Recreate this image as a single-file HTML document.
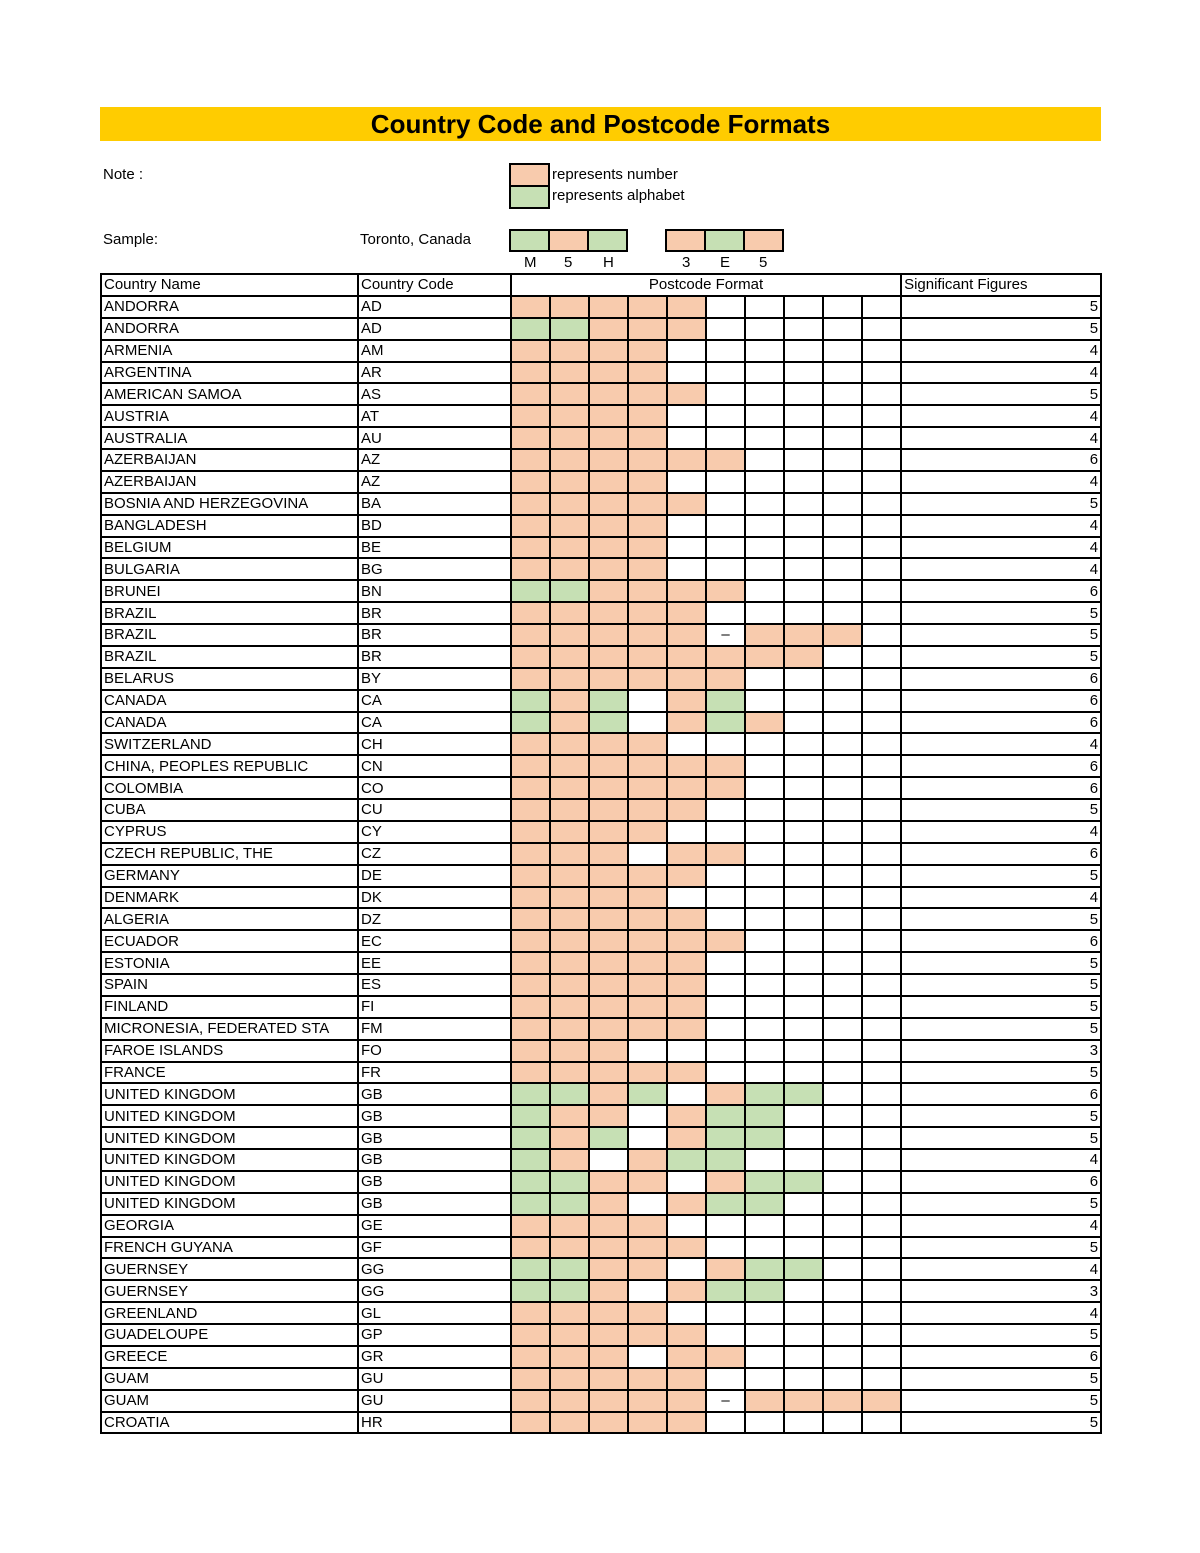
<!DOCTYPE html>
<html><head><meta charset="utf-8"><style>
body{margin:0;width:1200px;height:1553px;background:#fff;position:relative;font-family:"Liberation Sans",Arial,sans-serif;color:#000}
.abs{position:absolute}
.title{left:100px;top:107px;width:1001px;height:34px;background:#FFCC00;font-weight:bold;font-size:26px;text-align:center;line-height:34px}
.t{font-size:15px;position:absolute;white-space:nowrap}
.box{position:absolute;border:2px solid #000;box-sizing:border-box}
table{position:absolute;left:100px;top:273px;border-collapse:collapse;table-layout:fixed;width:1001px}
td{border:2px solid #000;height:19.88px;padding:0 2px;font-size:15px;line-height:19px;white-space:nowrap;overflow:hidden}
td.n{background:#F8CBAD}td.a{background:#C6E0B4}
td.r{text-align:right}
td.d{text-align:center}
</style></head><body>
<div class="abs title">Country Code and Postcode Formats</div>
<div class="t" style="left:103px;top:166px">Note :</div>
<div class="box" style="left:509px;top:163px;width:41px;height:24px;background:#F8CBAD"></div>
<div class="box" style="left:509px;top:185px;width:41px;height:24px;background:#C6E0B4"></div>
<div class="t" style="left:552px;top:166px">represents number</div>
<div class="t" style="left:552px;top:187px">represents alphabet</div>
<div class="t" style="left:103px;top:231px">Sample:</div>
<div class="t" style="left:360px;top:231px">Toronto, Canada</div>
<div class="box" style="left:509px;top:229px;width:41px;height:23px;background:#C6E0B4"></div>
<div class="box" style="left:548px;top:229px;width:41px;height:23px;background:#F8CBAD"></div>
<div class="box" style="left:587px;top:229px;width:41px;height:23px;background:#C6E0B4"></div>
<div class="box" style="left:665px;top:229px;width:41px;height:23px;background:#F8CBAD"></div>
<div class="box" style="left:704px;top:229px;width:41px;height:23px;background:#C6E0B4"></div>
<div class="box" style="left:743px;top:229px;width:41px;height:23px;background:#F8CBAD"></div>
<div class="t" style="left:524px;top:254px">M</div>
<div class="t" style="left:564px;top:254px">5</div>
<div class="t" style="left:603px;top:254px">H</div>
<div class="t" style="left:682px;top:254px">3</div>
<div class="t" style="left:720px;top:254px">E</div>
<div class="t" style="left:759px;top:254px">5</div>
<table>
<colgroup><col style="width:257px"><col style="width:153px"><col style="width:39px"><col style="width:39px"><col style="width:39px"><col style="width:39px"><col style="width:39px"><col style="width:39px"><col style="width:39px"><col style="width:39px"><col style="width:39px"><col style="width:39px"><col style="width:200px"></colgroup>
<tr><td>Country Name</td><td>Country Code</td><td colspan="10" style="text-align:center">Postcode Format</td><td>Significant Figures</td></tr>
<tr><td>ANDORRA</td><td>AD</td><td class=n></td><td class=n></td><td class=n></td><td class=n></td><td class=n></td><td></td><td></td><td></td><td></td><td></td><td class=r>5</td></tr>
<tr><td>ANDORRA</td><td>AD</td><td class=a></td><td class=a></td><td class=n></td><td class=n></td><td class=n></td><td></td><td></td><td></td><td></td><td></td><td class=r>5</td></tr>
<tr><td>ARMENIA</td><td>AM</td><td class=n></td><td class=n></td><td class=n></td><td class=n></td><td></td><td></td><td></td><td></td><td></td><td></td><td class=r>4</td></tr>
<tr><td>ARGENTINA</td><td>AR</td><td class=n></td><td class=n></td><td class=n></td><td class=n></td><td></td><td></td><td></td><td></td><td></td><td></td><td class=r>4</td></tr>
<tr><td>AMERICAN SAMOA</td><td>AS</td><td class=n></td><td class=n></td><td class=n></td><td class=n></td><td class=n></td><td></td><td></td><td></td><td></td><td></td><td class=r>5</td></tr>
<tr><td>AUSTRIA</td><td>AT</td><td class=n></td><td class=n></td><td class=n></td><td class=n></td><td></td><td></td><td></td><td></td><td></td><td></td><td class=r>4</td></tr>
<tr><td>AUSTRALIA</td><td>AU</td><td class=n></td><td class=n></td><td class=n></td><td class=n></td><td></td><td></td><td></td><td></td><td></td><td></td><td class=r>4</td></tr>
<tr><td>AZERBAIJAN</td><td>AZ</td><td class=n></td><td class=n></td><td class=n></td><td class=n></td><td class=n></td><td class=n></td><td></td><td></td><td></td><td></td><td class=r>6</td></tr>
<tr><td>AZERBAIJAN</td><td>AZ</td><td class=n></td><td class=n></td><td class=n></td><td class=n></td><td></td><td></td><td></td><td></td><td></td><td></td><td class=r>4</td></tr>
<tr><td>BOSNIA AND HERZEGOVINA</td><td>BA</td><td class=n></td><td class=n></td><td class=n></td><td class=n></td><td class=n></td><td></td><td></td><td></td><td></td><td></td><td class=r>5</td></tr>
<tr><td>BANGLADESH</td><td>BD</td><td class=n></td><td class=n></td><td class=n></td><td class=n></td><td></td><td></td><td></td><td></td><td></td><td></td><td class=r>4</td></tr>
<tr><td>BELGIUM</td><td>BE</td><td class=n></td><td class=n></td><td class=n></td><td class=n></td><td></td><td></td><td></td><td></td><td></td><td></td><td class=r>4</td></tr>
<tr><td>BULGARIA</td><td>BG</td><td class=n></td><td class=n></td><td class=n></td><td class=n></td><td></td><td></td><td></td><td></td><td></td><td></td><td class=r>4</td></tr>
<tr><td>BRUNEI</td><td>BN</td><td class=a></td><td class=a></td><td class=n></td><td class=n></td><td class=n></td><td class=n></td><td></td><td></td><td></td><td></td><td class=r>6</td></tr>
<tr><td>BRAZIL</td><td>BR</td><td class=n></td><td class=n></td><td class=n></td><td class=n></td><td class=n></td><td></td><td></td><td></td><td></td><td></td><td class=r>5</td></tr>
<tr><td>BRAZIL</td><td>BR</td><td class=n></td><td class=n></td><td class=n></td><td class=n></td><td class=n></td><td class=d>–</td><td class=n></td><td class=n></td><td class=n></td><td></td><td class=r>5</td></tr>
<tr><td>BRAZIL</td><td>BR</td><td class=n></td><td class=n></td><td class=n></td><td class=n></td><td class=n></td><td class=n></td><td class=n></td><td class=n></td><td></td><td></td><td class=r>5</td></tr>
<tr><td>BELARUS</td><td>BY</td><td class=n></td><td class=n></td><td class=n></td><td class=n></td><td class=n></td><td class=n></td><td></td><td></td><td></td><td></td><td class=r>6</td></tr>
<tr><td>CANADA</td><td>CA</td><td class=a></td><td class=n></td><td class=a></td><td></td><td class=n></td><td class=a></td><td></td><td></td><td></td><td></td><td class=r>6</td></tr>
<tr><td>CANADA</td><td>CA</td><td class=a></td><td class=n></td><td class=a></td><td></td><td class=n></td><td class=a></td><td class=n></td><td></td><td></td><td></td><td class=r>6</td></tr>
<tr><td>SWITZERLAND</td><td>CH</td><td class=n></td><td class=n></td><td class=n></td><td class=n></td><td></td><td></td><td></td><td></td><td></td><td></td><td class=r>4</td></tr>
<tr><td>CHINA, PEOPLES REPUBLIC</td><td>CN</td><td class=n></td><td class=n></td><td class=n></td><td class=n></td><td class=n></td><td class=n></td><td></td><td></td><td></td><td></td><td class=r>6</td></tr>
<tr><td>COLOMBIA</td><td>CO</td><td class=n></td><td class=n></td><td class=n></td><td class=n></td><td class=n></td><td class=n></td><td></td><td></td><td></td><td></td><td class=r>6</td></tr>
<tr><td>CUBA</td><td>CU</td><td class=n></td><td class=n></td><td class=n></td><td class=n></td><td class=n></td><td></td><td></td><td></td><td></td><td></td><td class=r>5</td></tr>
<tr><td>CYPRUS</td><td>CY</td><td class=n></td><td class=n></td><td class=n></td><td class=n></td><td></td><td></td><td></td><td></td><td></td><td></td><td class=r>4</td></tr>
<tr><td>CZECH REPUBLIC, THE</td><td>CZ</td><td class=n></td><td class=n></td><td class=n></td><td></td><td class=n></td><td class=n></td><td></td><td></td><td></td><td></td><td class=r>6</td></tr>
<tr><td>GERMANY</td><td>DE</td><td class=n></td><td class=n></td><td class=n></td><td class=n></td><td class=n></td><td></td><td></td><td></td><td></td><td></td><td class=r>5</td></tr>
<tr><td>DENMARK</td><td>DK</td><td class=n></td><td class=n></td><td class=n></td><td class=n></td><td></td><td></td><td></td><td></td><td></td><td></td><td class=r>4</td></tr>
<tr><td>ALGERIA</td><td>DZ</td><td class=n></td><td class=n></td><td class=n></td><td class=n></td><td class=n></td><td></td><td></td><td></td><td></td><td></td><td class=r>5</td></tr>
<tr><td>ECUADOR</td><td>EC</td><td class=n></td><td class=n></td><td class=n></td><td class=n></td><td class=n></td><td class=n></td><td></td><td></td><td></td><td></td><td class=r>6</td></tr>
<tr><td>ESTONIA</td><td>EE</td><td class=n></td><td class=n></td><td class=n></td><td class=n></td><td class=n></td><td></td><td></td><td></td><td></td><td></td><td class=r>5</td></tr>
<tr><td>SPAIN</td><td>ES</td><td class=n></td><td class=n></td><td class=n></td><td class=n></td><td class=n></td><td></td><td></td><td></td><td></td><td></td><td class=r>5</td></tr>
<tr><td>FINLAND</td><td>FI</td><td class=n></td><td class=n></td><td class=n></td><td class=n></td><td class=n></td><td></td><td></td><td></td><td></td><td></td><td class=r>5</td></tr>
<tr><td>MICRONESIA, FEDERATED STA</td><td>FM</td><td class=n></td><td class=n></td><td class=n></td><td class=n></td><td class=n></td><td></td><td></td><td></td><td></td><td></td><td class=r>5</td></tr>
<tr><td>FAROE ISLANDS</td><td>FO</td><td class=n></td><td class=n></td><td class=n></td><td></td><td></td><td></td><td></td><td></td><td></td><td></td><td class=r>3</td></tr>
<tr><td>FRANCE</td><td>FR</td><td class=n></td><td class=n></td><td class=n></td><td class=n></td><td class=n></td><td></td><td></td><td></td><td></td><td></td><td class=r>5</td></tr>
<tr><td>UNITED KINGDOM</td><td>GB</td><td class=a></td><td class=a></td><td class=n></td><td class=a></td><td></td><td class=n></td><td class=a></td><td class=a></td><td></td><td></td><td class=r>6</td></tr>
<tr><td>UNITED KINGDOM</td><td>GB</td><td class=a></td><td class=n></td><td class=n></td><td></td><td class=n></td><td class=a></td><td class=a></td><td></td><td></td><td></td><td class=r>5</td></tr>
<tr><td>UNITED KINGDOM</td><td>GB</td><td class=a></td><td class=n></td><td class=a></td><td></td><td class=n></td><td class=a></td><td class=a></td><td></td><td></td><td></td><td class=r>5</td></tr>
<tr><td>UNITED KINGDOM</td><td>GB</td><td class=a></td><td class=n></td><td></td><td class=n></td><td class=a></td><td class=a></td><td></td><td></td><td></td><td></td><td class=r>4</td></tr>
<tr><td>UNITED KINGDOM</td><td>GB</td><td class=a></td><td class=a></td><td class=n></td><td class=n></td><td></td><td class=n></td><td class=a></td><td class=a></td><td></td><td></td><td class=r>6</td></tr>
<tr><td>UNITED KINGDOM</td><td>GB</td><td class=a></td><td class=a></td><td class=n></td><td></td><td class=n></td><td class=a></td><td class=a></td><td></td><td></td><td></td><td class=r>5</td></tr>
<tr><td>GEORGIA</td><td>GE</td><td class=n></td><td class=n></td><td class=n></td><td class=n></td><td></td><td></td><td></td><td></td><td></td><td></td><td class=r>4</td></tr>
<tr><td>FRENCH GUYANA</td><td>GF</td><td class=n></td><td class=n></td><td class=n></td><td class=n></td><td class=n></td><td></td><td></td><td></td><td></td><td></td><td class=r>5</td></tr>
<tr><td>GUERNSEY</td><td>GG</td><td class=a></td><td class=a></td><td class=n></td><td class=n></td><td></td><td class=n></td><td class=a></td><td class=a></td><td></td><td></td><td class=r>4</td></tr>
<tr><td>GUERNSEY</td><td>GG</td><td class=a></td><td class=a></td><td class=n></td><td></td><td class=n></td><td class=a></td><td class=a></td><td></td><td></td><td></td><td class=r>3</td></tr>
<tr><td>GREENLAND</td><td>GL</td><td class=n></td><td class=n></td><td class=n></td><td class=n></td><td></td><td></td><td></td><td></td><td></td><td></td><td class=r>4</td></tr>
<tr><td>GUADELOUPE</td><td>GP</td><td class=n></td><td class=n></td><td class=n></td><td class=n></td><td class=n></td><td></td><td></td><td></td><td></td><td></td><td class=r>5</td></tr>
<tr><td>GREECE</td><td>GR</td><td class=n></td><td class=n></td><td class=n></td><td></td><td class=n></td><td class=n></td><td></td><td></td><td></td><td></td><td class=r>6</td></tr>
<tr><td>GUAM</td><td>GU</td><td class=n></td><td class=n></td><td class=n></td><td class=n></td><td class=n></td><td></td><td></td><td></td><td></td><td></td><td class=r>5</td></tr>
<tr><td>GUAM</td><td>GU</td><td class=n></td><td class=n></td><td class=n></td><td class=n></td><td class=n></td><td class=d>–</td><td class=n></td><td class=n></td><td class=n></td><td class=n></td><td class=r>5</td></tr>
<tr><td>CROATIA</td><td>HR</td><td class=n></td><td class=n></td><td class=n></td><td class=n></td><td class=n></td><td></td><td></td><td></td><td></td><td></td><td class=r>5</td></tr>
</table>
</body></html>
